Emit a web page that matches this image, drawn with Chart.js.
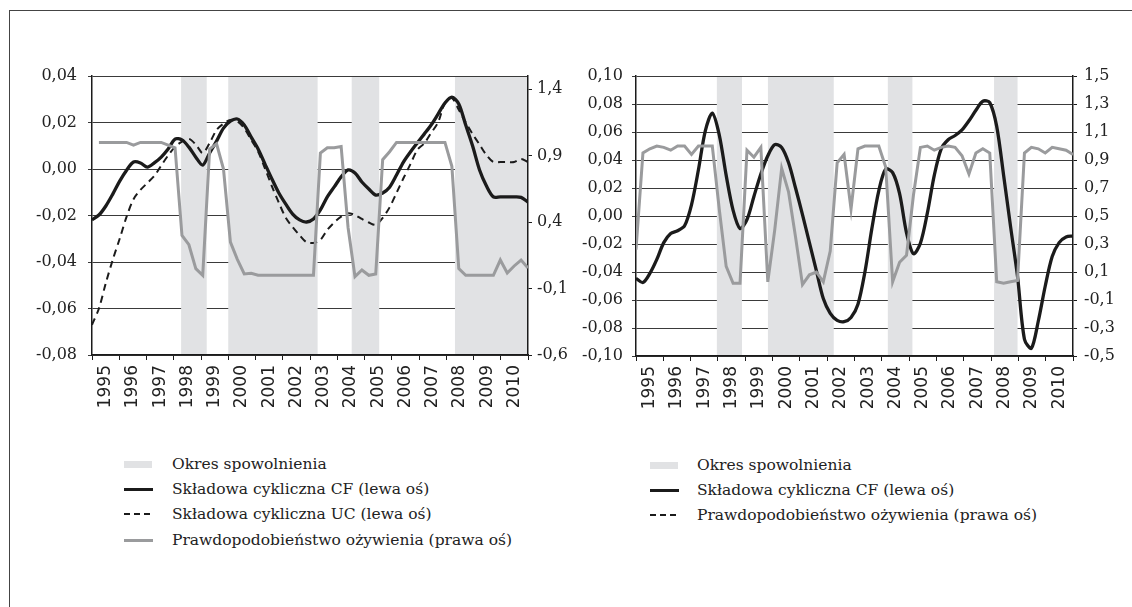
<!DOCTYPE html>
<html>
<head>
<meta charset="utf-8">
<script src="https://cdn.jsdelivr.net/npm/chart.js@4.4.1/dist/chart.umd.min.js"></script>
<style>
  body { margin: 0; background: #fff; width: 1132px; height: 607px; overflow: hidden; position: relative; font-family: "DejaVu Serif", serif; color: #222; }
  .frame { position: absolute; left: 9px; top: 10px; width: 1200px; height: 700px; border-left: 1.5px solid #444; border-top: 1.5px solid #444; }
  .box { position: absolute; top: 0; }
  #box1 { left: 0; width: 576px; height: 430px; }
  #box2 { left: 576px; width: 556px; height: 431px; }
  .legend .row { position: absolute; height: 20px; line-height: 20px; font-size: 15.5px; white-space: nowrap; }
  .sym { position: absolute; }
  .sym.band { height: 7px; background: #e1e2e4; }
  .sym.solid { height: 3px; background: #1b1b1b; }
  .sym.gray { height: 3px; background: #9a9b9d; }
  .sym.dash { height: 2px; background: repeating-linear-gradient(90deg, #1b1b1b 0 6px, transparent 6px 10px); }
</style>
</head>
<body>
<div class="frame"></div>
<div class="box" id="box1"><canvas id="c1"></canvas></div>
<div class="box" id="box2"><canvas id="c2"></canvas></div>

<div class="legend">
  <div class="sym band" style="left:124px;top:461px;width:28px"></div>
  <div class="row" style="left:172px;top:454px">Okres spowolnienia</div>
  <div class="sym solid" style="left:124px;top:488px;width:29px"></div>
  <div class="row" style="left:172px;top:479px">Składowa cykliczna CF (lewa oś)</div>
  <div class="sym dash" style="left:124px;top:513px;width:30px"></div>
  <div class="row" style="left:172px;top:504px">Składowa cykliczna UC (lewa oś)</div>
  <div class="sym gray" style="left:124px;top:539px;width:29px"></div>
  <div class="row" style="left:172px;top:530px">Prawdopodobieństwo ożywienia (prawa oś)</div>

  <div class="sym band" style="left:650px;top:462px;width:28px"></div>
  <div class="row" style="left:697px;top:455px">Okres spowolnienia</div>
  <div class="sym solid" style="left:650px;top:489px;width:29px"></div>
  <div class="row" style="left:697px;top:480px">Składowa cykliczna CF (lewa oś)</div>
  <div class="sym dash" style="left:650px;top:514px;width:30px"></div>
  <div class="row" style="left:697px;top:505px">Prawdopodobieństwo ożywienia (prawa oś)</div>
</div>

<script>
// x axis: year boundaries and labels
const yearTicks = [1995,1996,1997,1998,1999,2000,2001,2002,2003,2004,2005,2006,2007,2008,2009,2010,2011];

// left panel: quarterly values 1995-2010
const cfLeft = [-0.0219,-0.0198,-0.0159,-0.0108,-0.0052,-0.0005,0.0030,0.0026,0.0008,0.0026,0.0051,0.0086,
  0.0129,0.0125,0.0094,0.0051,0.0017,0.0069,0.0120,0.0176,0.0206,0.0215,0.0189,0.0137,
  0.0086,0.0021,-0.0043,-0.0103,-0.0151,-0.0194,-0.0219,-0.0228,-0.0215,-0.0176,-0.0120,-0.0077,
  -0.0034,-0.0004,-0.0017,-0.0056,-0.0086,-0.0112,-0.0103,-0.0078,-0.0026,0.0030,0.0073,0.0112,
  0.0150,0.0189,0.0236,0.0284,0.0309,0.0280,0.0189,0.0099,-0.0004,-0.0073,-0.0120,-0.0120,
  -0.0120,-0.0120,-0.0122,-0.0142];
const ucLeft = [-0.0670,-0.0600,-0.0490,-0.0390,-0.0300,-0.0205,-0.0130,-0.0090,-0.0060,-0.0030,0.0015,0.0058,
  0.0095,0.0118,0.0130,0.0105,0.0069,0.0112,0.0168,0.0195,0.0211,0.0205,0.0175,0.0125,
  0.0075,0.0002,-0.0075,-0.0145,-0.0210,-0.0250,-0.0285,-0.0315,-0.0318,-0.0305,-0.0262,-0.0230,
  -0.0205,-0.0190,-0.0198,-0.0215,-0.0230,-0.0240,-0.0210,-0.0165,-0.0103,-0.0040,0.0020,0.0082,
  0.0110,0.0155,0.0200,0.0284,0.0305,0.0255,0.0200,0.0150,0.0105,0.0060,0.0030,0.0030,
  0.0030,0.0030,0.0043,0.0030];
const probLeft = [null,1.00,1.00,1.00,1.00,1.00,0.98,1.00,1.00,1.00,1.00,0.98,
  0.96,0.30,0.23,0.05,0.00,0.95,0.99,0.80,0.25,0.12,0.01,0.015,
  0.00,0.00,0.00,0.00,0.00,0.00,0.00,0.00,0.00,0.92,0.96,0.96,
  0.97,0.36,-0.01,0.04,0.00,0.01,0.87,0.93,1.00,1.00,1.00,1.00,
  1.00,1.00,1.00,1.00,0.82,0.05,0.00,0.00,0.00,0.00,0.00,0.115,
  0.017,0.07,0.115,0.055];
const bandsLeft = [[1998.27,1999.21],[2000.0,2003.28],[2004.53,2005.54],[2008.32,2011]];
const leftTicksL = [-0.08,-0.06,-0.04,-0.02,0,0.02,0.04];
const leftTicksR = [-0.6,-0.1,0.4,0.9,1.4];

// right panel
const cfRight = [-0.0445,-0.0475,-0.0410,-0.0310,-0.0190,-0.0125,-0.0105,-0.0070,0.0080,0.0330,0.0610,0.0735,
  0.0580,0.0290,0.0040,-0.0090,-0.0025,0.0140,0.0300,0.0430,0.0510,0.0490,0.0380,0.0200,
  0.0010,-0.0190,-0.0390,-0.0590,-0.0695,-0.0745,-0.0755,-0.0725,-0.0630,-0.0400,-0.0090,0.0180,
  0.0335,0.0310,0.0160,-0.0120,-0.0270,-0.0195,0.0020,0.0290,0.0480,0.0545,0.0575,0.0615,
  0.0680,0.0755,0.0820,0.0810,0.0640,0.0290,-0.0076,-0.0430,-0.0880,-0.0945,-0.0750,-0.0500,
  -0.0290,-0.0190,-0.0150,-0.0143];
const probRight = [0.26,0.95,0.98,1.00,0.99,0.97,1.00,1.00,0.94,1.00,1.00,1.00,
  0.55,0.14,0.02,0.02,0.97,0.92,0.99,0.03,0.40,0.84,0.67,0.35,
  0.01,0.08,0.10,0.03,0.25,0.88,0.94,0.55,0.98,1.00,1.00,1.00,
  0.85,0.03,0.17,0.22,0.65,0.99,1.00,0.97,0.99,1.00,0.99,0.93,
  0.80,0.95,0.98,0.95,0.03,0.02,0.03,0.04,0.95,0.99,0.98,0.95,
  0.99,0.98,0.97,0.94];
const bandsRight = [[1997.96,1998.88],[1999.83,2002.24],[2004.22,2005.12],[2008.11,2008.97]];
const rightTicksL = [-0.10,-0.08,-0.06,-0.04,-0.02,0,0.02,0.04,0.06,0.08,0.10];
const rightTicksR = [-0.5,-0.3,-0.1,0.1,0.3,0.5,0.7,0.9,1.1,1.3,1.5];

const INK = '#1b1b1b', GRAY = '#9a9b9d', BAND = '#e1e2e4', GRID = '#3a3a3a';

function fmt(v, d) {
  if (Math.abs(v) < 1e-9) v = 0;
  return v.toFixed(d).replace('.', ',');
}
function pts(arr) { return arr.map((v, i) => ({ x: i, y: v })); }

const bandsPlugin = {
  id: 'bands',
  beforeDatasetsDraw(chart, args, opts) {
    const xs = chart.scales.x, a = chart.chartArea, ctx = chart.ctx;
    ctx.save();
    ctx.fillStyle = BAND;
    opts.list.forEach(b => {
      const x0 = Math.max(xs.getPixelForValue(b[0]), a.left + 1);
      const x1 = Math.min(xs.getPixelForValue(b[1]), a.right - 1);
      ctx.fillRect(x0, a.top + 1, x1 - x0, a.bottom - a.top - 2);
    });
    ctx.restore();
  }
};

function makeChart(id, cfg) {
  const serif = { family: 'DejaVu Serif', size: 16 };
  return new Chart(document.getElementById(id), {
    type: 'line',
    data: { datasets: cfg.datasets },
    plugins: [bandsPlugin],
    options: {
      responsive: true, maintainAspectRatio: false, animation: false,
      layout: { padding: { top: 76 } },
      elements: { point: { radius: 0 } },
      plugins: { legend: { display: false }, tooltip: { enabled: false }, bands: { list: cfg.bands } },
      scales: {
        xi: { type: 'linear', display: false, min: 0, max: cfg.n - 1 },
        x: {
          type: 'linear', position: 'bottom', min: 1995, max: 2011,
          afterBuildTicks: s => { s.ticks = yearTicks.map(v => ({ value: v })); },
          afterFit: s => { s.height = 75; },
          ticks: { autoSkip: false, minRotation: 90, maxRotation: 90, labelOffset: 13.6, padding: 5,
            color: '#222', font: { family: 'DejaVu Sans', size: 17 },
            callback: v => v < 2011 ? String(v) : '' },
          grid: { drawOnChartArea: false, tickLength: 5, color: INK, lineWidth: 1 },
          border: { color: INK, width: 1.5 }
        },
        y: {
          position: 'left', min: cfg.yl[0], max: cfg.yl[cfg.yl.length - 1],
          afterBuildTicks: s => { s.ticks = cfg.yl.map(v => ({ value: v })); },
          afterFit: s => { s.width = cfg.wl; },
          ticks: { padding: cfg.pl, color: '#222', font: serif, callback: v => fmt(v, 2) },
          grid: { color: GRID, lineWidth: 1, tickLength: 4 },
          border: { color: INK, width: 1.5 }
        },
        y2: {
          position: 'right', min: cfg.yrMin, max: cfg.yrMax,
          afterBuildTicks: s => { s.ticks = cfg.yr.map(v => ({ value: v })); },
          afterFit: s => { s.width = cfg.wr; },
          ticks: { padding: cfg.pr, color: '#222', font: serif, callback: v => fmt(v, 1) },
          grid: { drawOnChartArea: false, color: INK, lineWidth: 1, tickLength: 4 },
          border: { color: INK, width: 1.5 }
        }
      }
    }
  });
}

makeChart('c1', {
  n: cfLeft.length, bands: bandsLeft, yl: leftTicksL, yr: leftTicksR, yrMin: -0.6, yrMax: 1.5,
  wl: 92, wr: 48, pl: 11, pr: 5,
  datasets: [
    { label: 'Prawdopodobieństwo ożywienia (prawa oś)', data: pts(probLeft), xAxisID: 'xi', yAxisID: 'y2',
      borderColor: GRAY, borderWidth: 3, tension: 0, spanGaps: false },
    { label: 'Składowa cykliczna UC (lewa oś)', data: pts(ucLeft), xAxisID: 'xi', yAxisID: 'y',
      borderColor: INK, borderWidth: 2, borderDash: [7, 5], tension: 0.3 },
    { label: 'Składowa cykliczna CF (lewa oś)', data: pts(cfLeft), xAxisID: 'xi', yAxisID: 'y',
      borderColor: INK, borderWidth: 3.3, tension: 0.3 }
  ]
});

makeChart('c2', {
  n: cfRight.length, bands: bandsRight, yl: rightTicksL, yr: rightTicksR, yrMin: -0.5, yrMax: 1.5,
  wl: 60, wr: 59, pl: 9, pr: 7,
  datasets: [
    { label: 'Prawdopodobieństwo ożywienia (prawa oś)', data: pts(probRight), xAxisID: 'xi', yAxisID: 'y2',
      borderColor: GRAY, borderWidth: 3, tension: 0 },
    { label: 'Składowa cykliczna CF (lewa oś)', data: pts(cfRight), xAxisID: 'xi', yAxisID: 'y',
      borderColor: INK, borderWidth: 3.3, tension: 0.3 }
  ]
});
</script>
</body>
</html>
